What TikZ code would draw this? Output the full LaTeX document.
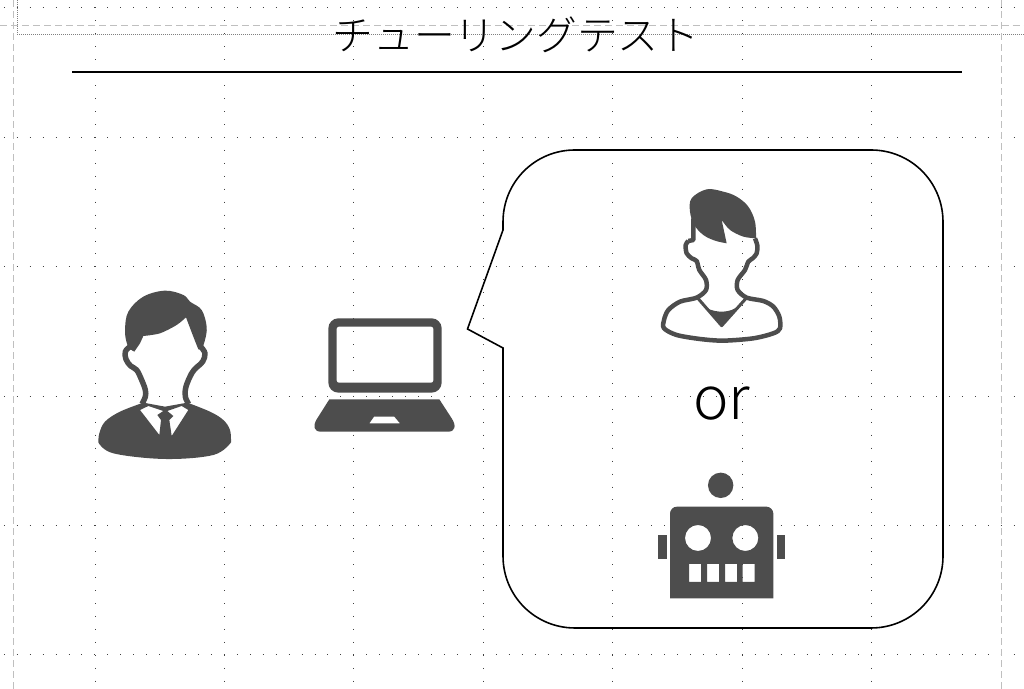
\documentclass[tikz,border=0pt]{standalone}
\usepackage{fontspec}
\newfontfamily\jpfont{Noto Sans CJK JP Light}
\definecolor{icongray}{HTML}{4D4D4D}
\begin{document}
\begin{tikzpicture}[line cap=butt,line join=miter,x=0.01cm,y=-0.01cm]
	\tikzset{griddot/.style={draw=black!75,line width=0.01cm,dash pattern=on 0.01cm off 0.1194cm},
		guide/.style={draw=black!25,line width=0.01cm,dashed,dash pattern=on 0.07cm off 0.04cm},
		guidedot/.style={draw=black!50,line width=0.01cm,dash pattern=on 0.01cm off 0.01cm},
		iconfill/.style={fill=icongray,even odd rule},
		iconline/.style={draw=icongray,line width=0.055cm,line join=round},
		zoomed/.style={x=0.01cm/3,y=-0.01cm/3}}
	\useasboundingbox (0,0) rectangle (1024,689);
	% grid and guides
	\foreach \j in {8,137.4,266.8,396.2,525.6,655}{
		\draw[griddot] (3.8,\j)--(1024,\j);}
	\foreach \i in {95,224.4,353.8,483.2,612.6,742,871.6}{
		\draw[griddot] (\i,7.5)--(\i,689);}
	\draw[guide] (0,25.3)--(1024,25.3);
	\draw[guidedot] (17,35)--(1024,35);
	\draw[guidedot] (17,0)--(17,35);
	\draw[guide] (13,0)--(13,689);
	\draw[guide] (1001,0)--(1001,689);
	% title
	\node[inner sep=0pt,font=\jpfont\fontsize{11.6}{12}\selectfont] (title) at (516,35) {チューリングテスト};
	\draw[line width=0.45pt] (72,72)--(962,72);
	% balloon
	\draw[line width=0.45pt] (503,230)--(503,222) .. controls (503,182) and (535,150) .. (575,150)
		--(871,150) .. controls (911,150) and (943,182) .. (943,222)
		--(943,556) .. controls (943,596) and (911,628) .. (871,628)
		--(575,628) .. controls (535,628) and (503,596) .. (503,556)
		--(503,348)--(467.5,329)--cycle;
	\node[inner sep=0pt,font=\jpfont\fontsize{17}{19}\selectfont] (ortext) at (721.5,404) {or};
	% man in suit
	\begin{scope}[shift={(80,280)},zoomed]
		\fill[iconfill] plot[smooth,tension=0.6] coordinates {(163,215)(148,205)(140,188)(135,150)(145,95)(190,50)(255,32)(310,45)(330,65)(365,90)(380,140)(375,180)(365,205)(355,208)}
			--plot[smooth,tension=0.5] coordinates {(355,208)(340,170)(318,112)}
			--plot[smooth,tension=0.5] coordinates {(318,112)(290,135)(240,160)(190,168)}
			--(180,190)--cycle;
		\draw[iconline] plot[smooth,tension=0.6] coordinates {(150,200)(136,215)(138,238)(152,258)(170,270)(185,300)(196,330)(196,350)(186,372)};
		\draw[iconline] plot[smooth,tension=0.6] coordinates {(362,200)(375,220)(368,245)(350,262)(335,280)(318,320)(316,350)(326,372)};
		\fill[iconfill] plot[smooth,tension=0.6] coordinates {(190,368)(120,395)(75,425)(58,460)(55,487)}
			--plot[smooth,tension=0.6] coordinates {(55,487)(100,520)(255,537)(400,525)(453,487)}
			--plot[smooth,tension=0.6] coordinates {(453,487)(450,450)(430,420)(390,395)(322,368)}
			--(255,380)--cycle
			(180,390)--(205,378)--(250,393)--(232,405)--(243,420)--(238,465)--cycle
			(325,390)--(305,378)--(262,393)--(280,408)--(268,420)--(275,468)--cycle;
	\end{scope}
	% laptop
	\begin{scope}[shift={(300,300)},zoomed]
		\fill[iconfill] [rounded corners=0.1cm] (85,55) rectangle (425,278)
			[rounded corners=0.02cm] (110,80) rectangle (400,248);
		\fill[iconfill] (88,298)--(418,298)--(455,355) .. controls (470,378) and (465,395) .. (445,395)
			--(62,395) .. controls (42,395) and (38,378) .. (50,358)--cycle
			(222,350)--(283,350)--(300,370)--(208,370)--cycle;
	\end{scope}
	% young man
	\begin{scope}[shift={(640,175)},zoomed]
		\fill[iconfill] plot[smooth,tension=0.6] coordinates {(348,190)(345,140)(325,95)(290,65)(250,50)(200,43)(155,70)(150,110)(163,150)(190,180)(225,197)(260,205)}
			--(245,135)--plot[smooth,tension=0.5] coordinates {(245,135)(270,165)(310,185)(348,190)};
		\draw[iconline,line width=0.045cm] plot[smooth,tension=0.5] coordinates {(345,190)(352,212)(350,235)(338,250)(325,260)(315,285)(293,315)(293,345)(320,368)(370,378)(400,395)(418,425)(420,460)(400,475)(340,490)(250,497)(180,492)(110,480)(72,460)(72,435)(85,405)(120,380)(170,368)(198,345)(198,315)(178,285)(170,258)(155,250)(140,235)(137,210)(145,198)};
		\draw[iconline,line width=0.045cm] (145,198)--(160,195)--(160,130);
		\draw[iconline,line width=0.03cm] (172,368)--(245,452)--(320,368);
		\fill[iconfill] plot[smooth,tension=0.6] coordinates {(200,400)(225,408)(250,410)(275,405)(293,395)}--(245,452)--cycle;
	\end{scope}
	% robot
	\begin{scope}[shift={(640,460)},zoomed]
		\fill[iconfill] (242,76) circle (0.127cm);
		\fill[iconfill] [rounded corners=0.07cm] (90,415)--(90,140)--(400,140)--(400,300) [sharp corners]--(400,415)--cycle
			(174,234) circle (0.13cm) (316,234) circle (0.13cm)
			(147,312) rectangle (183,366) (201,312) rectangle (237,366)
			(255,312) rectangle (291,366) (308,312) rectangle (344,366);
		\fill[iconfill] (55,224) rectangle (80,296);
		\fill[iconfill] (412,224) rectangle (436,296);
	\end{scope}
\end{tikzpicture}
\end{document}
